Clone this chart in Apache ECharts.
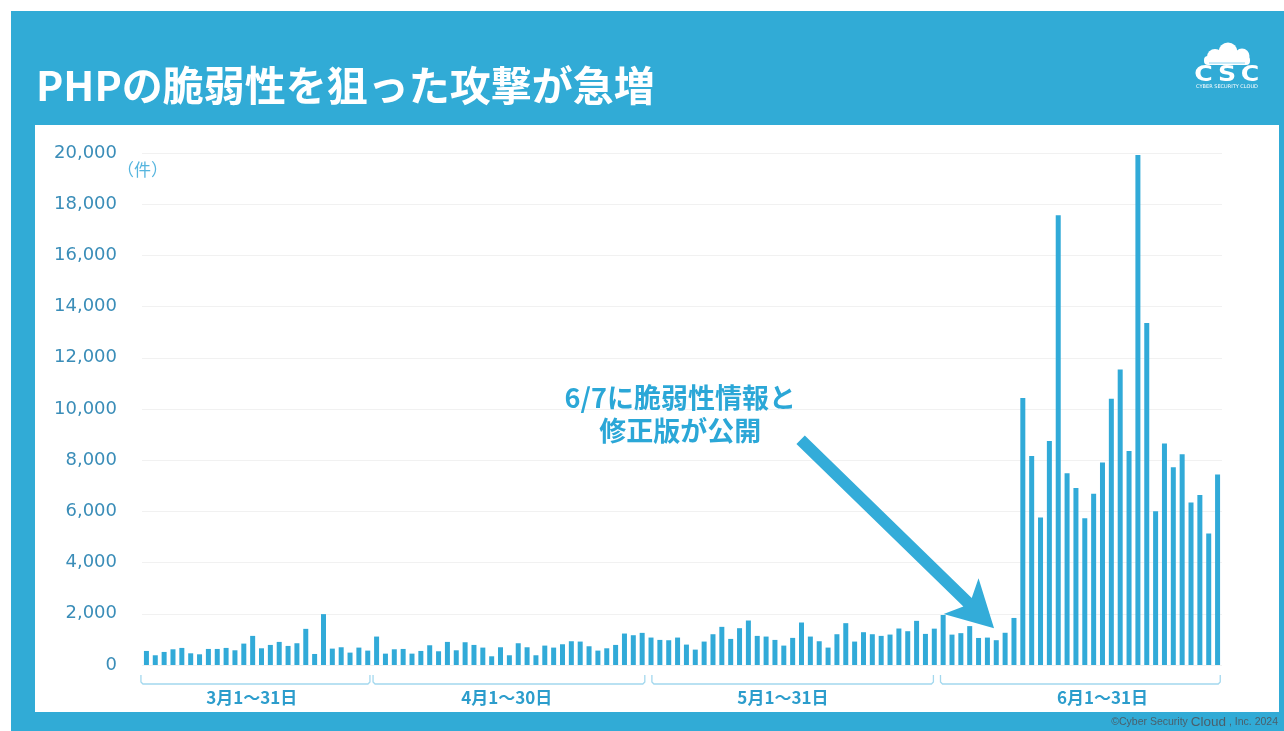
<!DOCTYPE html>
<html>
<head>
<meta charset="utf-8">
<script src="https://cdn.jsdelivr.net/npm/echarts@6/dist/echarts.min.js"></script>
<style>
html,body{margin:0;padding:0;background:#fff;}
#chart{width:1284px;height:731px;}
</style>
</head>
<body>
<div id="chart"></div>
<script>
// ---- data ----
const monthDays = [31, 30, 31, 30];
const categories = [];
monthDays.forEach((n, m) => { for (let d = 1; d <= n; d++) categories.push((m + 3) + '/' + d); });

const attacks = [
  549,380,510,614,667,457,418,627,627,667,575,836,1137,653,784,902,745,850,1412,431,1987,640,693,484,680,562,
  1111,444,614,627,444,549,771,536,902,575,889,784,680,340,693,380,850,693,380,758,680,810,928,915,732,562,653,784,1229,1163,1255,
  1072,980,967,1072,797,601,915,1202,1490,1019,1438,1738,1137,1111,980,758,1059,1660,1111,928,680,1202,1634,915,1281,1202,1137,1189,1425,1320,1725,1215,1420,
  1953,1187,1244,1519,1056,1071,969,1259,1838,10433,8161,5759,8754,17567,7495,6917,5730,6685,7915,10404,11547,8364,19925,13356,6005,8653,7727,8233,6352,6642,5137,7438
];

const yTicks = [0, 2000, 4000, 6000, 8000, 10000, 12000, 14000, 16000, 18000, 20000];

const bracketLabels = ['3月1〜31日', '4月1〜30日', '5月1〜31日', '6月1〜31日'];
const bracketStart = [-0.62, 25.6, 57.1, 89.7];
const bracketEnd   = [25.25, 56.3, 88.9, 121.3];
const bracketLabelAt = [11.9, 40.7, 71.9, 108.0];

const titleText = 'PHPの脆弱性を狙った攻撃が急増';
const noteLines = ['6/7に脆弱性情報と', '修正版が公開'];
const arrowFrom = [73.9, 8800];
const arrowTo = [95.75, 1440];

// ---- chart ----
const BLUE = '#31abd6';
const chart = echarts.init(document.getElementById('chart'));

const bg = [
  { type: 'rect', z: -20, silent: true, shape: { x: 11, y: 11, width: 1273, height: 720 }, style: { fill: BLUE } },
  { type: 'rect', z: -19, silent: true, shape: { x: 35, y: 125, width: 1244, height: 587 }, style: { fill: '#ffffff' } }
];

chart.setOption({
  animation: false,
  backgroundColor: '#ffffff',
  title: {
    text: titleText,
    left: 36, top: 63, padding: 0,
    textStyle: { color: '#ffffff', fontSize: 41, fontWeight: 'bold', fontFamily: 'Noto Sans CJK JP', lineHeight: 44 }
  },
  grid: { left: 142, right: 62, top: 153, bottom: 66, containLabel: false },
  xAxis: {
    type: 'category', data: categories,
    axisLine: { show: false }, axisTick: { show: false }, axisLabel: { show: false }, splitLine: { show: false }
  },
  yAxis: {
    type: 'value', min: yTicks[0], max: yTicks[yTicks.length - 1], interval: yTicks[1] - yTicks[0],
    axisLine: { show: false }, axisTick: { show: false },
    axisLabel: {
      margin: 25, color: '#3a8db8', fontSize: 18, fontFamily: 'DejaVu Sans',
      formatter: v => v.toLocaleString('en-US')
    },
    splitLine: { lineStyle: { color: '#f1f1f1', width: 1 } }
  },
  series: [{
    type: 'bar', data: attacks, barWidth: 5,
    itemStyle: { color: '#31aad8' }
  }],
  graphic: { elements: bg }
});

// ---- annotations anchored to axis coordinates ----
const p0 = chart.convertToPixel({ xAxisIndex: 0, yAxisIndex: 0 }, [0, 0]);
const p1 = chart.convertToPixel({ xAxisIndex: 0, yAxisIndex: 0 }, [121, 0]);
const xAt = i => p0[0] + (p1[0] - p0[0]) * i / 121;
const yAt = v => chart.convertToPixel({ yAxisIndex: 0 }, v);
const baseY = p0[1];

const els = bg.slice();

// brackets + labels
bracketLabels.forEach((lab, k) => {
  const a = xAt(bracketStart[k]), b = xAt(bracketEnd[k]);
  const yb = baseY + 19, yt = baseY + 10;
  els.push({
    type: 'polyline', z: 10, silent: true,
    shape: { points: [[a, yt], [a, yb - 2], [a + 2, yb], [b - 2, yb], [b, yb - 2], [b, yt]] },
    style: { stroke: '#a3d8ee', lineWidth: 1.3, fill: null }
  });
  els.push({
    type: 'text', z: 10, silent: true, x: xAt(bracketLabelAt[k]), y: baseY + 33,
    style: { text: lab, fill: '#2c9dcc', font: 'bold 17px "Noto Sans CJK JP"', textAlign: 'center', textVerticalAlign: 'middle' }
  });
});

// unit
els.push({
  type: 'text', z: 10, silent: true, x: 117, y: yAt(yTicks[yTicks.length - 1]) + 17,
  style: { text: '（件）', fill: '#56b5de', font: '17px "Noto Sans CJK JP"', textAlign: 'left', textVerticalAlign: 'middle' }
});

// note text
noteLines.forEach((t, k) => {
  els.push({
    type: 'text', z: 30, silent: true, x: xAt(60.3), y: yAt(10450) + k * 33,
    style: { text: t, fill: '#2ba7d7', font: 'bold 27px "Noto Sans CJK JP"', textAlign: 'center', textVerticalAlign: 'middle' }
  });
});

// arrow
(function () {
  const s = [xAt(arrowFrom[0]), yAt(arrowFrom[1])];
  const e = [xAt(arrowTo[0]), yAt(arrowTo[1])];
  const dx = e[0] - s[0], dy = e[1] - s[1];
  const L = Math.hypot(dx, dy), ux = dx / L, uy = dy / L, nx = -uy, ny = ux;
  const hw = 6, headL = 46, headW = 25, notch = 9;
  const bx = e[0] - ux * headL, by = e[1] - uy * headL;
  const nxp = bx + ux * notch, nyp = by + uy * notch;
  const pts = [
    [s[0] + nx * hw, s[1] + ny * hw],
    [nxp + nx * hw, nyp + ny * hw],
    [bx + nx * headW, by + ny * headW],
    [e[0], e[1]],
    [bx - nx * headW, by - ny * headW],
    [nxp - nx * hw, nyp - ny * hw],
    [s[0] - nx * hw, s[1] - ny * hw]
  ];
  els.push({ type: 'polygon', z: 30, silent: true, shape: { points: pts }, style: { fill: '#33acd9' } });
})();

// logo
const logo = { type: 'group', z: 20, silent: true, children: [
  { type: 'circle', shape: { cx: 1215, cy: 57, r: 8 }, style: { fill: '#fff' } },
  { type: 'circle', shape: { cx: 1228, cy: 52, r: 9.5 }, style: { fill: '#fff' } },
  { type: 'circle', shape: { cx: 1242, cy: 56, r: 7.5 }, style: { fill: '#fff' } },
  { type: 'rect', shape: { x: 1204, y: 56, width: 46, height: 9, r: 4 }, style: { fill: '#fff' } },
  { type: 'line', shape: { x1: 1209, y1: 63, x2: 1245, y2: 63 }, style: { stroke: '#8fd3ee', lineWidth: 1 } },
  { type: 'text', x: 1203.5, y: 76, scaleX: 1.2, style: { text: 'C', fill: '#fff', font: 'bold 21px "DejaVu Sans"', textAlign: 'center', textVerticalAlign: 'middle' } },
  { type: 'text', x: 1227, y: 76, scaleX: 1.2, style: { text: 'S', fill: '#fff', font: 'bold 21px "DejaVu Sans"', textAlign: 'center', textVerticalAlign: 'middle' } },
  { type: 'text', x: 1250, y: 76, scaleX: 1.2, style: { text: 'C', fill: '#fff', font: 'bold 21px "DejaVu Sans"', textAlign: 'center', textVerticalAlign: 'middle' } },
  { type: 'text', x: 1227, y: 87, style: { text: 'CYBER SECURITY CLOUD', fill: '#fff', font: '5px "DejaVu Sans"', textAlign: 'center', textVerticalAlign: 'middle' } }
]};
els.push(logo);

// copyright
els.push({
  type: 'text', z: 20, silent: true, x: 1278, y: 722,
  style: {
    text: '{s|©Cyber Security }{b|Cloud}{s| , Inc. 2024}',
    textAlign: 'right', textVerticalAlign: 'middle',
    rich: {
      s: { fill: '#4a5f6b', font: '10.5px "Liberation Sans"' },
      b: { fill: '#4a5f6b', font: '13.5px "Liberation Sans"' }
    }
  }
});

chart.setOption({ graphic: { elements: els } }, { replaceMerge: ['graphic'] });
</script>
</body>
</html>
